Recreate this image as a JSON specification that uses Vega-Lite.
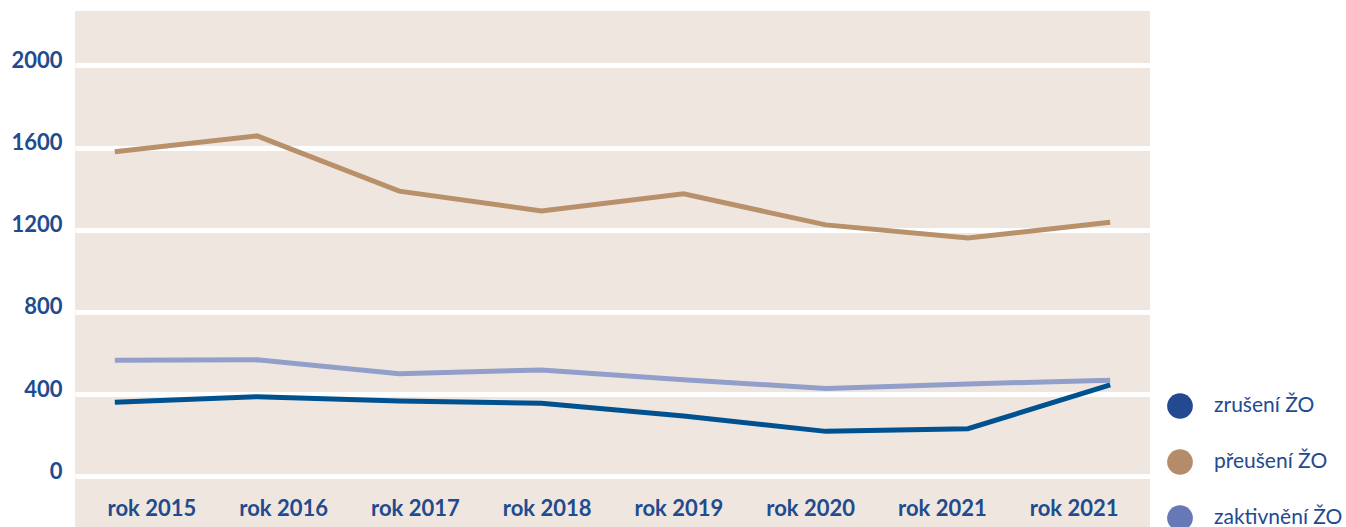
{
  "$schema": "https://vega.github.io/schema/vega-lite/v6.json",
  "autosize": "none",
  "width": 1075,
  "height": 527,
  "padding": {"left": 75, "top": 11, "right": 196, "bottom": 0},
  "background": "white",
  "config": {
    "view": {"stroke": null, "fill": "#efe7df"},
    "font": "Lato"
  },
  "data": {
    "values": [
      {"k": "2015", "series": "zrušení ŽO", "value": 361},
      {"k": "2016", "series": "zrušení ŽO", "value": 388},
      {"k": "2017", "series": "zrušení ŽO", "value": 367},
      {"k": "2018", "series": "zrušení ŽO", "value": 356},
      {"k": "2019", "series": "zrušení ŽO", "value": 294},
      {"k": "2020", "series": "zrušení ŽO", "value": 219},
      {"k": "2021", "series": "zrušení ŽO", "value": 232},
      {"k": "2021b", "series": "zrušení ŽO", "value": 445},
      {"k": "2015", "series": "přeušení ŽO", "value": 1580},
      {"k": "2016", "series": "přeušení ŽO", "value": 1657},
      {"k": "2017", "series": "přeušení ŽO", "value": 1388},
      {"k": "2018", "series": "přeušení ŽO", "value": 1292},
      {"k": "2019", "series": "přeušení ŽO", "value": 1375},
      {"k": "2020", "series": "přeušení ŽO", "value": 1224},
      {"k": "2021", "series": "přeušení ŽO", "value": 1160},
      {"k": "2021b", "series": "přeušení ŽO", "value": 1237},
      {"k": "2015", "series": "zaktivnění ŽO", "value": 565},
      {"k": "2016", "series": "zaktivnění ŽO", "value": 567},
      {"k": "2017", "series": "zaktivnění ŽO", "value": 499},
      {"k": "2018", "series": "zaktivnění ŽO", "value": 518},
      {"k": "2019", "series": "zaktivnění ŽO", "value": 470},
      {"k": "2020", "series": "zaktivnění ŽO", "value": 428},
      {"k": "2021", "series": "zaktivnění ŽO", "value": 450},
      {"k": "2021b", "series": "zaktivnění ŽO", "value": 468}
    ]
  },
  "encoding": {
    "y": {
      "field": "value",
      "type": "quantitative",
      "scale": {"domain": [-300, 2265], "nice": false, "zero": false},
      "axis": {
        "values": [0, 400, 800, 1200, 1600, 2000],
        "format": "d",
        "title": null,
        "grid": true,
        "gridColor": "white",
        "gridWidth": 5,
        "gridOpacity": 1,
        "domain": false,
        "ticks": false,
        "labelPadding": 13,
        "labelOffset": -5,
        "labelFont": "Lato",
        "labelFontSize": 22,
        "labelFontWeight": "bold",
        "labelColor": "#214b8e"
      }
    }
  },
  "layer": [
    {
      "mark": {"type": "line", "strokeWidth": 5, "strokeCap": "butt", "strokeJoin": "miter"},
      "encoding": {
        "x": {
          "field": "k",
          "type": "ordinal",
          "sort": null,
          "scale": {"type": "point", "padding": 0.28},
          "axis": null
        },
        "color": {
          "field": "series",
          "type": "nominal",
          "scale": {
            "domain": ["zrušení ŽO", "přeušení ŽO", "zaktivnění ŽO"],
            "range": ["#00518f", "#b8906a", "#929fcb"]
          },
          "legend": null
        }
      }
    },
    {
      "mark": {"type": "point", "filled": true, "opacity": 0},
      "encoding": {
        "x": {
          "field": "k",
          "type": "ordinal",
          "sort": null,
          "scale": {"type": "point", "padding": 0.58},
          "axis": {
            "title": null,
            "domain": false,
            "ticks": false,
            "grid": false,
            "labelAngle": 0,
            "labelBaseline": "middle",
            "labelPadding": -30,
            "labelExpr": "datum.value == '2021b' ? 'rok 2021' : 'rok ' + datum.value",
            "labelFont": "Lato",
            "labelFontSize": 22,
            "labelFontWeight": "bold",
            "labelColor": "#214b8e"
          }
        },
        "color": {
          "field": "series",
          "type": "nominal",
          "scale": {
            "domain": ["zrušení ŽO", "přeušení ŽO", "zaktivnění ŽO"],
            "range": ["#234a90", "#b58c69", "#6678b5"]
          },
          "legend": {
            "title": null,
            "orient": "none",
            "legendX": 1092,
            "legendY": 382,
            "padding": 0,
            "symbolType": "circle",
            "symbolSize": 660,
            "symbolOpacity": 1,
            "symbolStrokeWidth": 0,
            "rowPadding": 30,
            "labelOffset": 21,
            "labelFont": "Lato",
            "labelFontSize": 21,
            "labelColor": "#234a8f"
          }
        }
      }
    }
  ],
  "resolve": {
    "scale": {"x": "independent", "color": "independent"},
    "axis": {"x": "independent"}
  }
}
